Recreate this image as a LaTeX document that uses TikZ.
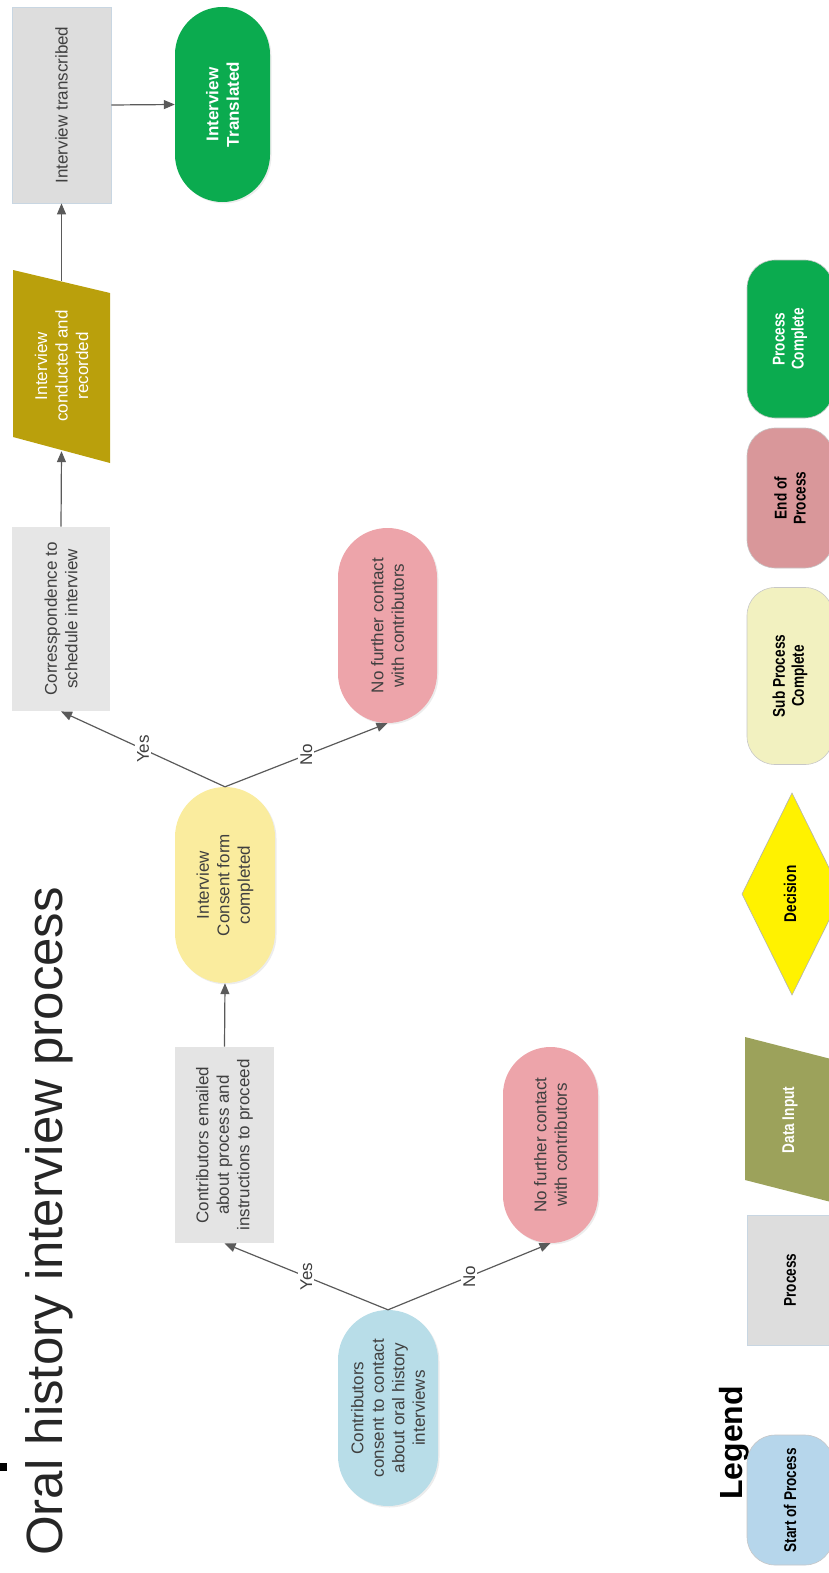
\documentclass[tikz,border=0pt]{standalone}
\usepackage{fontspec}
\setmainfont{Liberation Sans}
\newfontfamily\narrowfont{Liberation Sans}[FakeStretch=0.8]
\usetikzlibrary{arrows.meta,shapes.misc,shadows}

\definecolor{txtgray}{HTML}{3F3F3F}
\definecolor{linegray}{HTML}{5A5A5A}
\definecolor{procfill}{HTML}{DDDDDD}
\definecolor{procline}{HTML}{C8D6E2}
\definecolor{startblue}{HTML}{B8DDE8}
\definecolor{consentyellow}{HTML}{FAEC9E}
\definecolor{stoppink}{HTML}{EDA4AA}
\definecolor{donegreen}{HTML}{0BAB4F}
\definecolor{inputolive}{HTML}{BAA00C}
\definecolor{legblue}{HTML}{B6D6EB}
\definecolor{legolive}{HTML}{9CA25B}
\definecolor{legsub}{HTML}{F2F1C0}
\definecolor{legend}{HTML}{D9979A}

\tikzset{
  base/.style={rotate=90, inner sep=0pt, align=center,
    font=\fontsize{17}{20.5}\selectfont, text=txtgray},
  procbox/.style={base, rectangle, fill=procfill, draw=procline, line width=0.8pt},
  pill/.style={base, rounded rectangle, drop shadow={shadow xshift=1.5pt,
    shadow yshift=-1.5pt, opacity=0.15}},
  arr/.style={draw=linegray, line width=1.2pt,
    -{Triangle[length=11pt,width=9pt]}},
  lab/.style={rotate=90, fill=white, inner sep=2pt,
    font=\fontsize{17}{20}\selectfont, text=txtgray},
  legitem/.style={rotate=90, inner sep=0pt, align=center,
    font=\narrowfont\bfseries\fontsize{17}{19}\selectfont, text=black,
    minimum height=86pt, draw=black!22, line width=0.6pt},
}

\begin{document}
\begin{tikzpicture}[x=1pt,y=-1pt]
\useasboundingbox (0,0) rectangle (829,1573);
\clip (0,0) rectangle (829,1573);

% title
\fill[black] (0,1463) rectangle (7,1471);
\node[rotate=90, anchor=base west, inner sep=0pt,
  font=\fontsize{51}{60}\selectfont, text=black!85] (title)
  at (62,1556) {Oral history interview process};

% main flow
\node[pill, fill=startblue, minimum width=196pt, minimum height=100pt] (start)
  at (388,1408) {Contributors\\consent to contact\\about oral history\\interviews};
\node[procbox, draw=none, fill=procfill!80!white, minimum width=196pt, minimum height=99pt] (emailed)
  at (224.5,1145) {Contributors emailed\\about process and\\instructions to proceed};
\node[pill, fill=stoppink, minimum width=196pt, minimum height=95pt] (nofirst)
  at (550.5,1145) {No further contact\\with contributors};
\node[pill, fill=consentyellow, minimum width=196pt, minimum height=100pt] (consent)
  at (225,885) {Interview\\Consent form\\completed};
\node[procbox, draw=none, fill=procfill!75!white, minimum width=184pt, minimum height=98pt] (corr)
  at (61,619) {Corresspondence to\\schedule interview};
\node[pill, fill=stoppink, minimum width=195pt, minimum height=99pt] (nosecond)
  at (387.5,625.5) {No further contact\\with contributors};

% data input parallelogram
\fill[inputolive] (13,270) -- (110,293) -- (110,463) -- (13,437) -- cycle;
\node[base, text=white, minimum width=170pt, minimum height=97pt] (conducted)
  at (61.5,366) {Interview\\conducted and\\recorded};

\node[procbox, minimum width=196pt, minimum height=99pt] (transcribed)
  at (61.5,105) {Interview transcribed};
\node[pill, fill=donegreen, text=white, font=\bfseries\fontsize{17}{20.5}\selectfont,
  minimum width=195pt, minimum height=95pt] (translated)
  at (222.5,104.5) {Interview\\Translated};

% connectors
\draw[arr] (start.east) -- node[lab]{Yes} (emailed.west);
\draw[arr] (start.east) -- node[lab]{No} (nofirst.west);
\draw[arr] (emailed.east) -- (consent.west);
\draw[arr] (consent.east) -- node[lab]{Yes} (corr.west);
\draw[arr] (consent.east) -- node[lab]{No} (nosecond.west);
\draw[arr] (corr.east) -- (conducted.west);
\draw[arr] (conducted.east) -- (transcribed.west);
\draw[arr] (transcribed.south) -- (translated.north);

% legend
\node[rotate=90, anchor=base west, inner sep=0pt,
  font=\bfseries\fontsize{32}{36}\selectfont] (legendtitle)
  at (742,1500) {Legend};

\node[legitem, fill=legblue, rounded corners=28pt, minimum width=130pt] (lstart)
  at (790,1500) {Start of Process};
\node[legitem, fill=procfill, draw=procline, minimum width=130pt] (lproc)
  at (790,1280) {Process};
\fill[legolive] (745,1037) -- (835,1060) -- (835,1203) -- (745,1180) -- cycle;
\node[legitem, draw=none, text=white, minimum width=120pt] (linput)
  at (790,1120) {Data Input};
\filldraw[fill=yellow, draw=black!30, line width=0.6pt]
  (742,894) -- (792,793) -- (842,894) -- (792,995) -- cycle;
\node[legitem, draw=none, minimum width=60pt] (ldecision)
  at (790,894) {Decision};
\node[legitem, fill=legsub, rounded corners=28pt, minimum width=177pt] (lsub)
  at (790,676) {Sub Process\\Complete};
\node[legitem, fill=legend, rounded corners=28pt, minimum width=140pt] (lend)
  at (790,498) {End of\\Process};
\node[legitem, fill=donegreen, text=white, rounded corners=28pt, minimum width=158pt] (ldone)
  at (790,339) {Process\\Complete};
\end{tikzpicture}
\end{document}
